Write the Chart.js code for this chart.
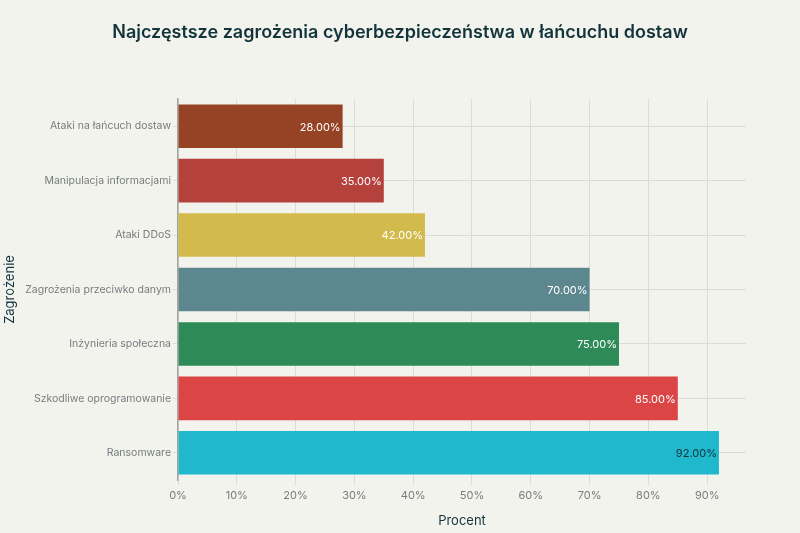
<!DOCTYPE html>
<html>
<head>
<meta charset="utf-8">
<script src="https://cdn.jsdelivr.net/npm/chart.js@4.4.1/dist/chart.umd.min.js"></script>
<style>
  html, body { margin: 0; padding: 0; background: #f3f3ee; }
  #wrap { width: 800px; height: 533px; }
</style>
</head>
<body>
<div id="wrap"><canvas id="threatChart"></canvas></div>
<script>
// categories top to bottom
const threats = [
  'Ataki na łańcuch dostaw',
  'Manipulacja informacjami',
  'Ataki DDoS',
  'Zagrożenia przeciwko danym',
  'Inżynieria społeczna',
  'Szkodliwe oprogramowanie',
  'Ransomware'
];
const percentValues = [28, 35, 42, 70, 75, 85, 92];
const barColors = ['#964325', '#B4413C', '#D2BA4C', '#5D878F', '#2E8B57', '#DB4545', '#1FB8CD'];
const labelColors = ['#ffffff', '#ffffff', '#ffffff', '#ffffff', '#ffffff', '#ffffff', '#13343B'];
const xTicks = [0, 10, 20, 30, 40, 50, 60, 70, 80, 90];
const chartTitle = 'Najczęstsze zagrożenia cyberbezpieczeństwa w łańcuchu dostaw';

const FONT = 'Inter, "Liberation Sans", sans-serif';

// title centred on the whole canvas + "xx.00%" inside the end of each bar
const decorations = {
  id: 'decorations',
  afterDraw(chart) {
    const ctx = chart.ctx;
    ctx.save();
    ctx.font = '600 18px ' + FONT;
    ctx.fillStyle = '#13343B';
    ctx.textAlign = 'center';
    ctx.textBaseline = 'middle';
    ctx.fillText(chartTitle, chart.width / 2, 33);

    const meta = chart.getDatasetMeta(0);
    ctx.font = '11px ' + FONT;
    ctx.textAlign = 'right';
    meta.data.forEach((bar, i) => {
      ctx.fillStyle = labelColors[i];
      ctx.fillText(percentValues[i].toFixed(2) + '%', bar.x - 2, bar.y + 1);
    });
    ctx.restore();
  }
};

new Chart(document.getElementById('threatChart'), {
  type: 'bar',
  data: {
    labels: threats,
    datasets: [{
      data: percentValues,
      backgroundColor: barColors,
      borderWidth: 0,
      barPercentage: 0.8,
      categoryPercentage: 1.0
    }]
  },
  options: {
    indexAxis: 'y',
    responsive: true,
    maintainAspectRatio: false,
    animation: false,
    layout: { padding: { left: 0, right: 54, top: 99, bottom: 0 } },
    plugins: {
      legend: { display: false },
      tooltip: { enabled: false },
      title: { display: false }
    },
    scales: {
      x: {
        min: 0,
        max: 96.6,
        afterBuildTicks: (scale) => { scale.ticks = xTicks.map(v => ({ value: v })); },
        ticks: {
          color: '#767c7e',
          font: { family: FONT, size: 11 },
          padding: 4,
          callback: (v) => v + '%'
        },
        grid: { color: '#dcdcd5', tickLength: 5, drawTicks: true },
        border: { display: false },
        title: {
          display: true,
          text: 'Procent',
          color: '#13343B',
          font: { family: FONT, size: 13 },
          padding: { top: 3, bottom: 4 }
        },
        afterFit: (scale) => { scale.height = 53; }
      },
      y: {
        offset: true,
        ticks: {
          color: '#767c7e',
          font: { family: FONT, size: 10.5 },
          padding: 2
        },
        grid: { offset: false, color: '#dcdcd5', tickLength: 5 },
        border: { display: true, color: '#a3a3a0', width: 1.5 },
        title: {
          display: true,
          text: 'Zagrożenie',
          color: '#13343B',
          font: { family: FONT, size: 13 },
          padding: { top: 2, bottom: 4 }
        },
        afterFit: (scale) => { scale.width = 178; }
      }
    }
  },
  plugins: [decorations]
});
</script>
</body>
</html>
